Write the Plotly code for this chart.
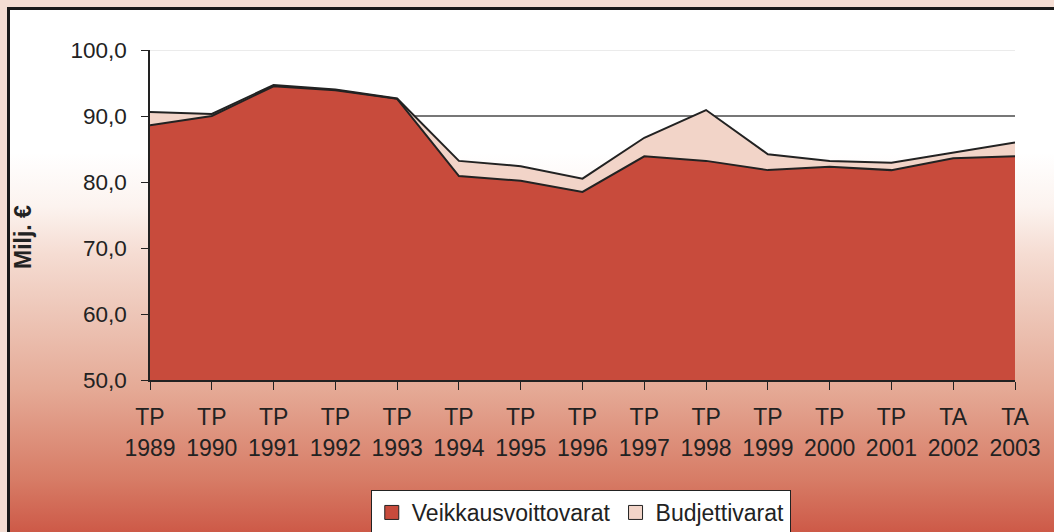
import base64
import plotly.graph_objects as go

# vuodet ja tunnisteet (TP = tilinpäätös, TA = talousarvio)
years = [1989, 1990, 1991, 1992, 1993, 1994, 1995, 1996, 1997, 1998, 1999, 2000, 2001, 2002, 2003]
prefix = ["TP", "TP", "TP", "TP", "TP", "TP", "TP", "TP", "TP", "TP", "TP", "TP", "TP", "TA", "TA"]

# milj. euroa
veikkaus = [88.6, 90.0, 94.5, 93.9, 92.6, 80.9, 80.2, 78.5, 83.9, 83.2, 81.8, 82.3, 81.8, 83.6, 83.9]
budjetti = [2.0, 0.3, 0.2, 0.1, 0.05, 2.3, 2.2, 2.0, 2.8, 7.7, 2.4, 0.9, 1.1, 0.9, 2.1]

W, H = 1054, 532
L, R, T, B = 150, 39, 50, 152
pw, ph = W - L - R, H - T - B

RED = "#c84b3c"
PINK = "#f2d4c8"
INK = "#222222"
FONT = "Liberation Sans, Arial, sans-serif"

# taustalaatikko liukuvärillä (svg-kuva)
bw, bh = W - 7, H - 7
svg = f"""<svg xmlns="http://www.w3.org/2000/svg" width="{bw}" height="{bh}" viewBox="0 0 {bw} {bh}">
<defs><linearGradient id="g" x1="0" y1="0" x2="0" y2="1">
<stop offset="0" stop-color="#ffffff"/>
<stop offset="0.27" stop-color="#ffffff"/>
<stop offset="0.37" stop-color="#fcf3ef"/>
<stop offset="0.46" stop-color="#f5dcd2"/>
<stop offset="0.56" stop-color="#eec8ba"/>
<stop offset="0.71" stop-color="#e5aa96"/>
<stop offset="0.88" stop-color="#d77c66"/>
<stop offset="1" stop-color="#cb5241"/>
</linearGradient></defs>
<rect x="1.5" y="1.5" width="{bw + 10}" height="{bh + 10}" fill="url(#g)" stroke="#1a1a1a" stroke-width="3"/>
</svg>"""
src = "data:image/svg+xml;base64," + base64.b64encode(svg.encode()).decode()

fig = go.Figure()
fig.add_trace(go.Scatter(
    x=years, y=veikkaus, name="Veikkausvoittovarat", stackgroup="one",
    mode="lines", line=dict(color=INK, width=2), fillcolor=RED, showlegend=False,
))
fig.add_trace(go.Scatter(
    x=years, y=budjetti, name="Budjettivarat", stackgroup="one",
    mode="lines", line=dict(color=INK, width=2), fillcolor=PINK, showlegend=False,
))
# selitteen neliöt
for name, col in [("Veikkausvoittovarat", RED), ("Budjettivarat", PINK)]:
    fig.add_trace(go.Scatter(
        x=[None], y=[None], name=name, mode="markers",
        marker=dict(symbol="square", size=14, color=col, line=dict(color=INK, width=1)),
    ))
# näkymätön apusarja vuosiakselille
fig.add_trace(go.Scatter(
    x=years, y=veikkaus, xaxis="x2", mode="markers",
    marker=dict(opacity=0), showlegend=False, hoverinfo="skip",
))

fig.add_layout_image(
    source=src, xref="paper", yref="paper",
    x=(7 - L) / pw, y=1 + (T - 7) / ph,
    sizex=bw / pw, sizey=bh / ph,
    xanchor="left", yanchor="top", sizing="stretch", layer="below",
)

fig.add_shape(type="line", xref="paper", yref="y", x0=0, x1=1, y0=100, y1=100,
              line=dict(color="#e4e4e4", width=1.5), layer="below")
fig.add_shape(type="line", xref="paper", yref="y", x0=0, x1=1, y0=90, y1=90,
              line=dict(color="#4a4a4a", width=1.3), layer="below")

fig.add_annotation(
    text="<b>Milj. €</b>", textangle=-90, xref="paper", yref="paper",
    x=(23 - L) / pw, y=(380 - 237) / ph, xanchor="center", yanchor="middle",
    showarrow=False, font=dict(size=23, color=INK, family=FONT),
)

fig.update_layout(
    width=W, height=H,
    margin=dict(l=L, r=R, t=T, b=B, autoexpand=False),
    paper_bgcolor="#f4ddd3",
    plot_bgcolor="white",
    separators=", ",
    font=dict(family=FONT, size=23, color=INK),
    showlegend=True,
    legend=dict(
        orientation="h", x=0.498, xanchor="center", y=(380 - 490) / ph, yanchor="top",
        bgcolor="white", bordercolor=INK, borderwidth=1, font=dict(size=23),
        traceorder="normal", itemsizing="trace",
    ),
    xaxis=dict(
        range=[1989, 2003], tickmode="array", tickvals=years, ticktext=prefix,
        ticks="outside", ticklen=8, tickcolor=INK, showgrid=False, zeroline=False,
        showline=True, linecolor=INK, linewidth=1.5, ticklabelstandoff=8, automargin=False,
    ),
    xaxis2=dict(
        overlaying="x", anchor="y", side="bottom",
        range=[1989, 2003], tickmode="array", tickvals=years,
        ticktext=[str(y) for y in years],
        ticks="", showline=False, showgrid=False, zeroline=False,
        ticklabelstandoff=52, automargin=False,
    ),
    yaxis=dict(
        range=[50, 100], tickmode="array", tickvals=[50, 60, 70, 80, 90, 100],
        tickformat=".1f", ticks="outside", ticklen=7, tickcolor=INK,
        tickfont=dict(size=22.5),
        showgrid=False, zeroline=False, showline=True, linecolor=INK, linewidth=1.5,
        ticklabelstandoff=10, automargin=False,
    ),
)

# selaimen oletusmarginaali pois, jotta kuva alkaa sivun kulmasta
fig.write_html("out.html", config={"displayModeBar": False},
               post_script="document.body.style.margin='0';")
